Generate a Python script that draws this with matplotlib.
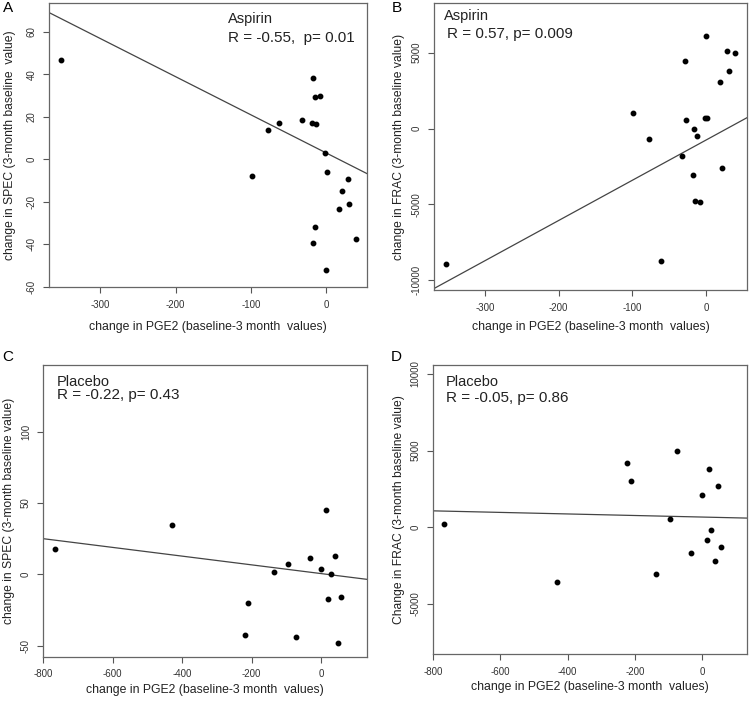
import matplotlib
matplotlib.use("Agg")
import matplotlib.pyplot as plt

plt.rcParams['font.family'] = ['Liberation Sans', 'DejaVu Sans']
plt.rcParams['axes.unicode_minus'] = False

# Panel A / B: aspirin group (PGE2 change vs SPEC / FRAC change)
a_pge2 = [-352.7, -17.3, -15.1, -8.0, -62.5, -77.5, -32.3, -19.1, -12.8, -0.9,
          -98.8, 1.3, 28.8, 21.7, 30.6, 17.7, -15.1, -16.8, 39.4, 0.4]
a_spec = [46.8, 38.2, 29.4, 30.0, 16.9, 13.9, 18.4, 16.9, 16.5, 3.1,
          -7.6, -5.9, -9.3, -14.8, -20.9, -23.5, -31.6, -39.5, -37.3, -52.2]

b_pge2 = [0.5, 29.0, 39.8, -28.5, 31.2, 18.6, -98.6, -27.1, -1.4, 1.8,
          -16.7, -12.2, -77.4, -32.1, -18.1, 21.7, -14.5, -7.7, -61.5, -352.5]
b_frac = [6074, 5110, 4956, 4430, 3816, 3048, 1053, 592, 702, 702,
          -44, -482, -702, -1798, -3026, -2610, -4803, -4847, -8750, -8926]

# Panel C / D: placebo group
c_pge2 = [-765.6, -428.4, 14.4, -30.8, 39.5, -95.1, -135.4, 0.0, 27.9, 21.1,
          58.6, -210.4, -220.0, -72.9, 48.1]
c_spec = [17.8, 34.4, 44.9, 11.7, 12.6, 7.0, 1.8, 3.5, 0.2, -17.3,
          -15.7, -20.1, -42.4, -44.2, -48.4]

d_pge2 = [-768.2, -430.8, -222.4, -211.4, -74.4, 20.8, 47.6, -1.0, -95.3, 26.8,
          14.0, 57.5, -31.8, 38.7, -137.0]
d_frac = [196, -3587, 4214, 3040, 4977, 3803, 2694, 2127, 561, -157,
          -848, -1305, -1676, -2179, -3027]

# fitted lines (intercept, slope)
fit_a = (3.07, -0.179)
fit_b = (-761, 26.48)
fit_c = (0.53, -0.0306)
fit_d = (668, -0.505)

panels = [
    dict(rect=[0.0653, 0.5923, 0.424, 0.4034], x=a_pge2, y=a_spec, fit=fit_a,
         xlim=(-368.5, 54.5), ylim=(-60, 73.5),
         xticks=[-300, -200, -100, 0], yticks=[-60, -40, -20, 0, 20, 40, 60],
         ylabel='change in SPEC (3-month baseline  value)',
         group='Aspirin', stat='R = -0.55,  p= 0.01',
         gpos=(0.563, 0.944), spos=(0.563, 0.877),
         letter='A', lpos=(0.004, 0.988), ylc=-0.104, xlc=-0.118),
    dict(rect=[0.579, 0.588, 0.4173, 0.4077], x=b_pge2, y=b_frac, fit=fit_b,
         xlim=(-368.8, 56.1), ylim=(-10636, 8268),
         xticks=[-300, -200, -100, 0], yticks=[-10000, -5000, 0, 5000],
         ylabel='change in FRAC (3-month baseline value)',
         group='Aspirin', stat='R = 0.57, p= 0.009',
         gpos=(0.031, 0.955), spos=(0.040, 0.892),
         letter='B', lpos=(0.522, 0.988), ylc=-0.094, xlc=-0.108),
    dict(rect=[0.0578, 0.0672, 0.4312, 0.4143], x=c_pge2, y=c_spec, fit=fit_c,
         xlim=(-800, 131.6), ylim=(-57.8, 146.9),
         xticks=[-800, -600, -400, -200, 0], yticks=[-50, 0, 50, 100],
         ylabel='change in SPEC (3-month baseline value)',
         group='Placebo', stat='R = -0.22, p= 0.43',
         gpos=(0.042, 0.942), spos=(0.042, 0.897),
         letter='C', lpos=(0.003, 0.493), ylc=-0.0875, xlc=-0.092),
    dict(rect=[0.5777, 0.0706, 0.4187, 0.411], x=d_pge2, y=d_frac, fit=fit_d,
         xlim=(-800, 135), ylim=(-8283, 10587),
         xticks=[-800, -600, -400, -200, 0], yticks=[-5000, 0, 5000, 10000],
         ylabel='Change in FRAC (3-month baseline value)',
         group='Placebo', stat='R = -0.05, p= 0.86',
         gpos=(0.040, 0.941), spos=(0.040, 0.886),
         letter='D', lpos=(0.521, 0.493), ylc=-0.09, xlc=-0.092),
]

fig = plt.figure(figsize=(7.5, 7.04), dpi=100)

for p in panels:
    ax = fig.add_axes(p['rect'])
    ax.plot(p['x'], p['y'], 'o', color='black', markersize=3.2, zorder=3)
    b, m = p['fit']
    ax.axline((0, b), slope=m, color='#444444', lw=0.9)
    ax.set_xlim(*p['xlim'])
    ax.set_ylim(*p['ylim'])
    ax.set_xticks(p['xticks'])
    ax.set_yticks(p['yticks'])
    ax.tick_params(direction='out', length=4, width=0.8, color='#555555',
                   labelsize=7, labelcolor='#333333', pad=5)
    for lbl in ax.get_yticklabels():
        lbl.set_rotation(90)
        lbl.set_va('center')
    for s in ax.spines.values():
        s.set_color('#666666')
        s.set_linewidth(0.9)
    ax.set_ylabel(p['ylabel'], fontsize=8.7, color='#222222')
    ax.set_xlabel('change in PGE2 (baseline-3 month  values)', fontsize=8.8,
                  color='#222222')
    ax.yaxis.set_label_coords(p['ylc'], 0.5)
    ax.xaxis.set_label_coords(0.5, p['xlc'])
    ax.text(*p['gpos'], p['group'], transform=ax.transAxes, fontsize=10.5,
            va='center', ha='left', color='#222222')
    ax.text(*p['spos'], p['stat'], transform=ax.transAxes, fontsize=11,
            va='center', ha='left', color='#222222')
    fig.text(*p['lpos'], p['letter'], fontsize=11, va='center', ha='left')

fig.savefig('out.png', dpi=100)
